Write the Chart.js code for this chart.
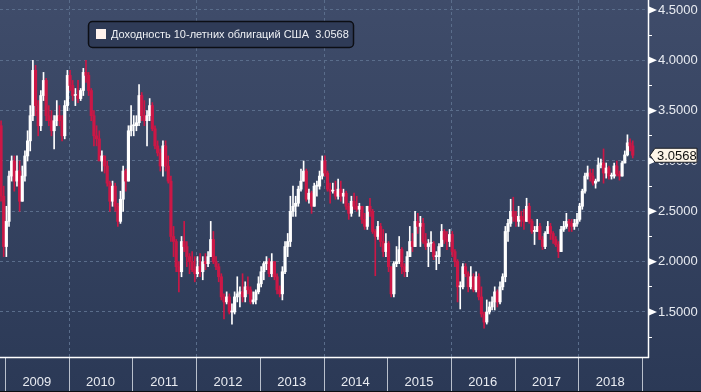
<!DOCTYPE html>
<html>
<head>
<meta charset="utf-8">
<script src="https://cdn.jsdelivr.net/npm/chart.js@4.4.0/dist/chart.umd.min.js"></script>
<style>
  html,body{margin:0;padding:0;background:#2c3a56;}
  #wrap{width:701px;height:392px;position:relative;}
</style>
</head>
<body>
<div id="wrap"><canvas id="c" width="701" height="392"></canvas></div>
<script>
// Series: half-month candles, Dec 2008 .. early Nov 2018
const seriesName = 'Доходность 10-летних облигаций США';
const startYear = 2008.917;   // first candle period start
const periodsPerYear = 24;

const openVals = [
  3.35, 2.65,
  // 2009
  2.15, 2.40, 2.85, 3.00, 2.80, 2.90, 2.60, 2.85, 3.05, 3.20, 3.45, 3.90, 3.55, 3.35, 3.65, 3.80, 3.45, 3.40, 3.30, 3.40, 3.45, 3.40, 3.25, 3.55,
  // 2010
  3.85, 3.75, 3.65, 3.65, 3.62, 3.70, 3.88, 3.85, 3.70, 3.45, 3.25, 3.22, 3.00, 3.05, 2.95, 2.78, 2.60, 2.75, 2.55, 2.40, 2.62, 2.90, 2.80, 3.30,
  // 2011
  3.35, 3.35, 3.38, 3.65, 3.45, 3.40, 3.45, 3.55, 3.32, 3.15, 3.08, 2.95, 3.15, 2.95, 2.80, 2.25, 2.20, 1.95, 1.90, 2.20, 2.15, 2.05, 2.00, 1.92,
  // 2012
  1.88, 1.95, 1.90, 2.00, 1.98, 2.05, 2.22, 2.00, 1.95, 1.85, 1.65, 1.60, 1.65, 1.50, 1.50, 1.65, 1.68, 1.70, 1.65, 1.75, 1.72, 1.60, 1.62, 1.70,
  // 2013
  1.78, 1.90, 1.98, 2.00, 1.88, 2.00, 1.85, 1.72, 1.68, 1.90, 2.15, 2.20, 2.50, 2.55, 2.58, 2.72, 2.80, 2.90, 2.62, 2.68, 2.55, 2.75, 2.75, 2.85,
  // 2014
  3.00, 2.88, 2.72, 2.70, 2.70, 2.65, 2.72, 2.65, 2.68, 2.55, 2.48, 2.60, 2.55, 2.52, 2.55, 2.42, 2.35, 2.55, 2.50, 2.30, 2.25, 2.35, 2.20, 2.10,
  // 2015
  2.18, 1.95, 1.68, 1.98, 2.00, 2.12, 1.95, 1.90, 2.05, 2.20, 2.15, 2.40, 2.35, 2.38, 2.20, 2.15, 2.18, 2.18, 2.05, 2.05, 2.15, 2.30, 2.22, 2.20,
  // 2016
  2.27, 2.10, 2.00, 1.75, 1.75, 1.95, 1.88, 1.75, 1.85, 1.72, 1.85, 1.65, 1.48, 1.40, 1.50, 1.55, 1.60, 1.70, 1.60, 1.75, 1.85, 2.30, 2.38, 2.50,
  // 2017
  2.45, 2.40, 2.45, 2.42, 2.40, 2.55, 2.40, 2.30, 2.30, 2.35, 2.22, 2.15, 2.28, 2.35, 2.28, 2.22, 2.17, 2.10, 2.32, 2.35, 2.40, 2.38, 2.35, 2.38,
  // 2018
  2.42, 2.55, 2.70, 2.85, 2.88, 2.85, 2.78, 2.80, 2.96, 2.98, 2.88, 2.93, 2.85, 2.85, 2.95, 2.87, 2.85, 2.98, 3.06, 3.18, 3.15
];
const highVals = [
  3.40, 2.75,
  2.55, 2.90, 3.05, 3.05, 3.05, 3.00, 2.95, 3.10, 3.30, 3.55, 4.00, 3.95, 3.60, 3.70, 3.88, 3.82, 3.55, 3.50, 3.45, 3.60, 3.55, 3.45, 3.60, 3.90,
  3.90, 3.80, 3.72, 3.80, 3.72, 3.92, 4.00, 3.88, 3.72, 3.50, 3.35, 3.30, 3.10, 3.05, 3.00, 2.80, 2.80, 2.78, 2.58, 2.70, 2.95, 2.92, 3.35, 3.55,
  3.45, 3.45, 3.76, 3.68, 3.60, 3.50, 3.62, 3.58, 3.35, 3.20, 3.12, 3.20, 3.20, 3.05, 2.85, 2.35, 2.22, 2.00, 2.25, 2.40, 2.20, 2.08, 2.10, 2.05,
  2.05, 2.08, 2.05, 2.08, 2.10, 2.40, 2.30, 2.05, 1.98, 1.88, 1.68, 1.70, 1.68, 1.58, 1.70, 1.85, 1.75, 1.88, 1.80, 1.85, 1.75, 1.70, 1.72, 1.85,
  1.95, 2.00, 2.05, 2.03, 2.08, 2.00, 1.88, 1.76, 1.95, 2.20, 2.28, 2.65, 2.75, 2.65, 2.75, 2.92, 3.00, 2.92, 2.72, 2.70, 2.78, 2.80, 2.90, 3.05,
  3.05, 2.90, 2.78, 2.78, 2.80, 2.82, 2.80, 2.72, 2.70, 2.58, 2.65, 2.68, 2.65, 2.58, 2.55, 2.48, 2.55, 2.63, 2.52, 2.32, 2.40, 2.38, 2.32, 2.28,
  2.20, 1.95, 2.00, 2.15, 2.25, 2.14, 1.98, 2.10, 2.35, 2.28, 2.50, 2.48, 2.45, 2.43, 2.28, 2.22, 2.30, 2.20, 2.10, 2.18, 2.37, 2.32, 2.30, 2.32,
  2.30, 2.12, 2.02, 1.80, 1.98, 1.98, 1.90, 1.95, 1.88, 1.90, 1.88, 1.75, 1.50, 1.62, 1.60, 1.65, 1.75, 1.72, 1.80, 1.88, 2.35, 2.42, 2.62, 2.64,
  2.50, 2.55, 2.50, 2.52, 2.63, 2.58, 2.42, 2.35, 2.42, 2.38, 2.25, 2.30, 2.40, 2.38, 2.30, 2.25, 2.20, 2.35, 2.40, 2.48, 2.42, 2.42, 2.42, 2.48,
  2.58, 2.72, 2.88, 2.95, 2.92, 2.92, 2.82, 3.03, 3.02, 3.12, 2.98, 2.95, 2.88, 2.98, 3.00, 2.90, 3.00, 3.10, 3.26, 3.22, 3.20
];
const lowVals = [
  2.60, 2.05,
  2.05, 2.35, 2.80, 2.70, 2.75, 2.50, 2.60, 2.80, 3.00, 3.10, 3.40, 3.45, 3.25, 3.30, 3.60, 3.40, 3.35, 3.25, 3.12, 3.35, 3.35, 3.20, 3.22, 3.50,
  3.70, 3.60, 3.55, 3.58, 3.60, 3.65, 3.78, 3.65, 3.40, 3.15, 3.15, 3.05, 2.90, 2.88, 2.75, 2.50, 2.55, 2.50, 2.35, 2.38, 2.50, 2.70, 2.80, 3.25,
  3.25, 3.30, 3.35, 3.40, 3.35, 3.15, 3.40, 3.30, 3.12, 3.05, 2.90, 2.85, 2.90, 2.78, 2.20, 2.05, 1.90, 1.70, 1.85, 2.10, 1.95, 1.88, 1.90, 1.80,
  1.85, 1.85, 1.82, 1.92, 1.95, 2.05, 1.98, 1.92, 1.80, 1.62, 1.43, 1.58, 1.48, 1.38, 1.48, 1.60, 1.55, 1.60, 1.60, 1.68, 1.58, 1.58, 1.58, 1.68,
  1.75, 1.82, 1.92, 1.85, 1.85, 1.82, 1.68, 1.65, 1.62, 1.88, 2.05, 2.15, 2.45, 2.45, 2.55, 2.70, 2.80, 2.60, 2.58, 2.48, 2.55, 2.65, 2.72, 2.82,
  2.85, 2.70, 2.58, 2.68, 2.62, 2.62, 2.60, 2.58, 2.52, 2.42, 2.45, 2.52, 2.50, 2.45, 2.38, 2.32, 2.32, 2.45, 2.28, 1.86, 2.22, 2.15, 2.05, 2.05,
  1.90, 1.65, 1.65, 1.95, 1.98, 1.88, 1.85, 1.85, 2.05, 2.10, 2.15, 2.28, 2.15, 2.18, 2.12, 1.95, 2.10, 2.02, 1.92, 1.98, 2.15, 2.18, 2.12, 2.15,
  2.05, 1.95, 1.60, 1.53, 1.73, 1.85, 1.70, 1.73, 1.70, 1.70, 1.62, 1.45, 1.34, 1.38, 1.48, 1.52, 1.52, 1.55, 1.58, 1.72, 1.80, 2.20, 2.35, 2.40,
  2.35, 2.35, 2.35, 2.32, 2.40, 2.38, 2.28, 2.17, 2.30, 2.22, 2.12, 2.13, 2.28, 2.22, 2.18, 2.15, 2.04, 2.10, 2.30, 2.33, 2.30, 2.30, 2.32, 2.35,
  2.40, 2.52, 2.68, 2.82, 2.80, 2.76, 2.73, 2.80, 2.93, 2.78, 2.83, 2.82, 2.82, 2.83, 2.85, 2.81, 2.85, 2.98, 3.05, 3.10, 3.03
];
const closeVals = [
  2.65, 2.15,
  2.40, 2.85, 3.00, 2.80, 2.90, 2.60, 2.85, 3.05, 3.20, 3.45, 3.90, 3.55, 3.35, 3.65, 3.80, 3.45, 3.40, 3.30, 3.40, 3.45, 3.40, 3.25, 3.55, 3.85,
  3.75, 3.65, 3.65, 3.62, 3.70, 3.88, 3.85, 3.70, 3.45, 3.25, 3.22, 3.00, 3.05, 2.95, 2.78, 2.60, 2.75, 2.55, 2.40, 2.62, 2.90, 2.80, 3.30, 3.35,
  3.35, 3.38, 3.65, 3.45, 3.40, 3.45, 3.55, 3.32, 3.15, 3.08, 2.95, 3.15, 2.95, 2.80, 2.25, 2.20, 1.95, 1.90, 2.20, 2.15, 2.05, 2.00, 1.92, 1.88,
  1.95, 1.90, 2.00, 1.98, 2.05, 2.22, 2.00, 1.95, 1.85, 1.65, 1.60, 1.65, 1.50, 1.50, 1.65, 1.68, 1.70, 1.65, 1.75, 1.72, 1.60, 1.62, 1.70, 1.78,
  1.90, 1.98, 2.00, 1.88, 2.00, 1.85, 1.72, 1.68, 1.90, 2.15, 2.20, 2.50, 2.55, 2.58, 2.72, 2.80, 2.90, 2.62, 2.68, 2.55, 2.75, 2.75, 2.85, 3.00,
  2.88, 2.72, 2.70, 2.70, 2.65, 2.72, 2.65, 2.68, 2.55, 2.48, 2.60, 2.55, 2.52, 2.55, 2.42, 2.35, 2.55, 2.50, 2.30, 2.25, 2.35, 2.20, 2.10, 2.18,
  1.95, 1.68, 1.98, 2.00, 2.12, 1.95, 1.90, 2.05, 2.20, 2.15, 2.40, 2.35, 2.38, 2.20, 2.15, 2.18, 2.18, 2.05, 2.05, 2.15, 2.30, 2.22, 2.20, 2.27,
  2.10, 2.00, 1.75, 1.75, 1.95, 1.88, 1.75, 1.85, 1.72, 1.85, 1.65, 1.48, 1.40, 1.50, 1.55, 1.60, 1.70, 1.60, 1.75, 1.85, 2.30, 2.38, 2.50, 2.45,
  2.40, 2.45, 2.42, 2.40, 2.55, 2.40, 2.30, 2.30, 2.35, 2.22, 2.15, 2.28, 2.35, 2.28, 2.22, 2.17, 2.10, 2.32, 2.35, 2.40, 2.38, 2.35, 2.38, 2.42,
  2.55, 2.70, 2.85, 2.88, 2.85, 2.78, 2.80, 2.96, 2.98, 2.88, 2.93, 2.85, 2.85, 2.95, 2.87, 2.85, 2.98, 3.06, 3.18, 3.15, 3.0568
];

// axis labels
const yearLabels = ['2009','2010','2011','2012','2013','2014','2015','2016','2017','2018'];
const yMajorTicks = [1.5, 2.0, 2.5, 3.0, 3.5, 4.0, 4.5];
const yMinorTicks = [1.25, 1.75, 2.25, 2.75, 3.25, 3.75, 4.25];

const X_MIN = 2008.9215, X_MAX = 2019.094;
const Y_MIN = 1.053, Y_MAX = 4.599;

const UP = '#ffffff', DOWN = '#cc1746';
const GRID = '#5a6d8b';
const LABEL = '#e8ebf1';
const FONT = "'Liberation Sans', Arial, sans-serif";

const times = closeVals.map((_, i) => startYear + (i + 0.5) / periodsPerYear);
const candleColors = closeVals.map((c, i) => c >= openVals[i] ? UP : DOWN);

const isMajor = v => yMajorTicks.some(m => Math.abs(m - v) < 1e-6);

// background, extra grid, bottom band, legend, last price
const decor = {
  id: 'decor',
  beforeDraw(chart){
    const {ctx, width, height} = chart;
    const g = ctx.createLinearGradient(0, 0, 0, height);
    g.addColorStop(0, '#3f4c6a');
    g.addColorStop(1, '#2b3956');
    ctx.save();
    ctx.fillStyle = g;
    ctx.fillRect(0, 0, width, height);
    ctx.restore();
  },
  beforeDatasetsDraw(chart){
    const {ctx, chartArea: a, scales: {x}} = chart;
    ctx.save();
    ctx.strokeStyle = GRID;
    ctx.lineWidth = 1;
    ctx.setLineDash([3, 3]);
    for (let yr = 2010; yr <= 2018; yr += 2){
      const px = Math.round(x.getPixelForValue(yr)) + 0.5;
      ctx.beginPath(); ctx.moveTo(px, a.top); ctx.lineTo(px, a.bottom); ctx.stroke();
    }
    ctx.restore();
  },
  afterDraw(chart){
    const {ctx, chartArea: a, scales: {x, y}, width, height} = chart;
    ctx.save();
    // year separators in the bottom band
    ctx.strokeStyle = '#b9c0cc';
    ctx.lineWidth = 1;
    for (let yr = 2009; yr <= 2019; yr++){
      const px = Math.round(x.getPixelForValue(yr)) + 0.5;
      ctx.beginPath(); ctx.moveTo(px, a.bottom); ctx.lineTo(px, height); ctx.stroke();
    }
    // axis lines
    ctx.strokeStyle = '#ffffff';
    ctx.lineWidth = 1.5;
    ctx.beginPath(); ctx.moveTo(0, a.bottom + 0.5); ctx.lineTo(a.right + 1, a.bottom + 0.5); ctx.stroke();
    ctx.beginPath(); ctx.moveTo(a.right + 0.5, a.top); ctx.lineTo(a.right + 0.5, a.bottom + 1); ctx.stroke();
    ctx.fillStyle = '#0b0d12';
    ctx.fillRect(0, height - 1, width, 1);

    // major tick flags
    ctx.fillStyle = '#ffffff';
    yMajorTicks.forEach(v => {
      const py = y.getPixelForValue(v);
      ctx.beginPath();
      ctx.moveTo(a.right + 1, py - 3.5);
      ctx.lineTo(a.right + 9, py);
      ctx.lineTo(a.right + 1, py + 3.5);
      ctx.closePath();
      ctx.fill();
    });

    // last price tag
    const last = closeVals[closeVals.length - 1];
    const ly = y.getPixelForValue(last);
    const tipX = a.right + 2, bx = a.right + 7, bw = 42;
    ctx.beginPath();
    ctx.moveTo(tipX, ly);
    ctx.lineTo(bx, ly - 7);
    ctx.lineTo(bx + bw, ly - 7);
    ctx.lineTo(bx + bw, ly + 7);
    ctx.lineTo(bx, ly + 7);
    ctx.closePath();
    ctx.fillStyle = '#fdf5e8';
    ctx.fill();
    ctx.strokeStyle = '#1a1d24';
    ctx.lineWidth = 1;
    ctx.stroke();
    ctx.fillStyle = '#111111';
    ctx.font = '13px ' + FONT;
    ctx.textBaseline = 'middle';
    ctx.textAlign = 'left';
    ctx.fillText(last.toFixed(4), bx + 2, ly + 1);

    // legend box
    ctx.beginPath();
    ctx.roundRect(88.5, 21.5, 265, 26, 4);
    ctx.fillStyle = '#2f3b57';
    ctx.fill();
    ctx.strokeStyle = '#0c0e14';
    ctx.lineWidth = 1.5;
    ctx.stroke();
    ctx.fillStyle = '#fff3ee';
    ctx.fillRect(96, 29, 10, 10);
    ctx.fillStyle = '#eef0f4';
    ctx.font = '11px ' + FONT;
    ctx.fillText(seriesName + '  ' + last.toFixed(4), 111, 35);
    ctx.restore();
  }
};

const chart = new Chart(document.getElementById('c'), {
  type: 'bar',
  data: {
    datasets: [
      {
        label: 'wick',
        data: times.map((t, i) => ({x: t, y: [lowVals[i], highVals[i]]})),
        backgroundColor: candleColors,
        barThickness: 1,
        grouped: false,
        borderWidth: 0,
        order: 2
      },
      {
        label: 'body',
        data: times.map((t, i) => ({x: t, y: [openVals[i], closeVals[i]]})),
        backgroundColor: candleColors,
        barThickness: 2.5,
        minBarLength: 1,
        grouped: false,
        borderWidth: 0,
        order: 1
      }
    ]
  },
  options: {
    responsive: false,
    animation: false,
    devicePixelRatio: 1,
    events: [],
    layout: {padding: 0},
    plugins: {legend: {display: false}, tooltip: {enabled: false}},
    scales: {
      x: {
        type: 'linear',
        min: X_MIN, max: X_MAX,
        offset: false,
        grid: {display: false, drawTicks: false, offset: false},
        border: {display: false},
        afterBuildTicks: s => { s.ticks = yearLabels.map(l => ({value: Number(l) + 0.5})); },
        afterFit: s => { s.height = 35; s.paddingLeft = 0; s.paddingRight = 0; },
        ticks: {
          autoSkip: false, maxRotation: 0, padding: 18,
          color: LABEL, font: {family: FONT, size: 13},
          callback: (v, i) => yearLabels[i]
        }
      },
      y: {
        type: 'linear',
        position: 'right',
        min: Y_MIN, max: Y_MAX,
        grid: {
          color: c => (c.tick && isMajor(c.tick.value)) ? GRID : 'rgba(0,0,0,0)',
          lineWidth: 1,
          drawTicks: true,
          tickLength: 4,
          tickColor: '#ffffff',
          tickWidth: 1
        },
        border: {display: false, dash: [3, 3]},
        afterBuildTicks: s => {
          s.ticks = yMajorTicks.concat(yMinorTicks).sort((p, q) => p - q).map(v => ({value: v}));
        },
        afterFit: s => { s.width = 53; s.paddingTop = 0; s.paddingBottom = 0; },
        ticks: {
          autoSkip: false, padding: 6,
          color: LABEL, font: {family: FONT, size: 13},
          callback: v => isMajor(v) ? v.toFixed(4) : ''
        }
      }
    }
  },
  plugins: [decor]
});
</script>
</body>
</html>
